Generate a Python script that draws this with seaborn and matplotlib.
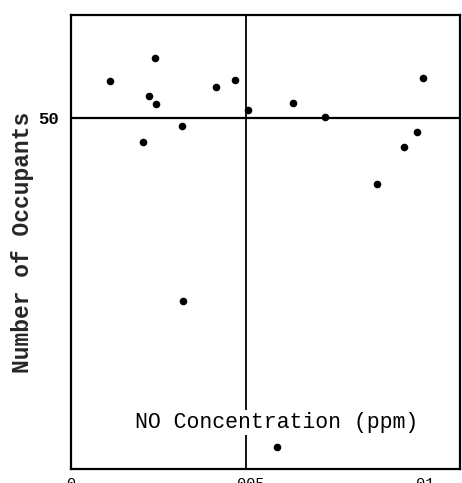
import matplotlib
matplotlib.use("Agg")
import matplotlib.pyplot as plt
import seaborn as sns
import pandas as pd

# NO concentration (ppm) and number of occupants
no_ppm = [0.00111, 0.00240, 0.00223, 0.00242, 0.00205, 0.00317, 0.00413, 0.00468,
          0.00505, 0.00635, 0.00726, 0.00874, 0.00950, 0.00989, 0.01005, 0.00320, 0.00589]
occupants = [55.2, 58.5, 53.1, 52.0, 46.5, 48.8, 54.3, 55.4,
             51.1, 52.1, 50.1, 40.5, 45.8, 48.0, 55.7, 23.9, 3.2]

x_ticks = [0, 0.005, 0.01]
x_tick_labels = ["0", ".005", ".01"]
y_ticks = [10, 20, 30, 40, 50, 60]
y_tick_labels = ["", "", "", "", "50", ""]
mean_occupants = 50
ref_ppm = 0.005

df = pd.DataFrame({"NO": no_ppm, "Occupants": occupants})

sns.set_style("white")
mono = ["Liberation Mono", "DejaVu Sans Mono"]
plt.rcParams["font.family"] = mono

fig = plt.figure(figsize=(4.62, 4.83), dpi=100)
ax = fig.add_axes([71 / 462, 1 - 469 / 483, (460 - 71) / 462, (469 - 15) / 483])

sns.scatterplot(data=df, x="NO", y="Occupants", ax=ax, color="black",
                s=30, edgecolor="black", linewidth=0, zorder=3)

ax.axhline(mean_occupants, color="black", lw=1.6, zorder=2)
ax.axvline(ref_ppm, color="black", lw=1.3, zorder=1)

ax.set_xlim(0, 0.01111)
ax.set_ylim(0, 64.6)

ax.set_xticks(x_ticks)
ax.set_xticklabels(x_tick_labels, fontsize=11)
ax.set_yticks(y_ticks)
ax.set_yticklabels(y_tick_labels, fontsize=12.5, fontweight="bold")
ax.tick_params(axis="both", direction="in", length=4, width=1.4, colors="black", pad=6)
ax.tick_params(axis="y", pad=9)

for sp in ax.spines.values():
    sp.set_visible(True)
    sp.set_color("black")
    sp.set_linewidth(1.6)

ax.set_xlabel("")
ax.set_ylabel("Number of Occupants", fontsize=16.5, fontweight="bold", labelpad=3)

ax.text(0.00587, 6.6, "NO Concentration (ppm)", fontsize=15.5, ha="center",
        va="center", color="black", zorder=2,
        bbox=dict(facecolor="white", edgecolor="none", pad=1.5))

fig.savefig("out.png", dpi=100)
